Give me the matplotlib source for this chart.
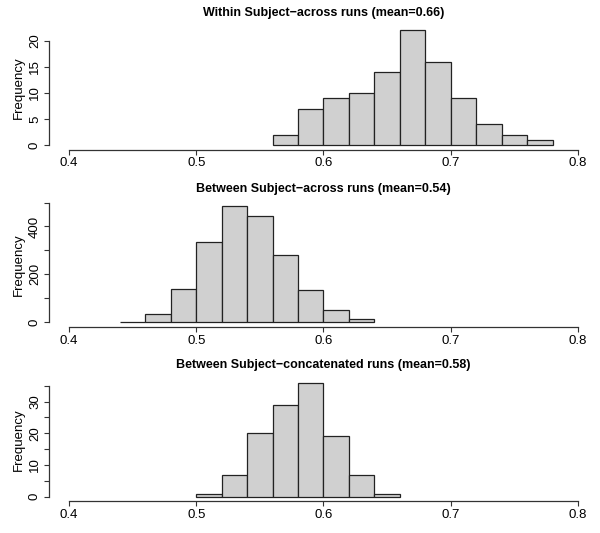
import numpy as np
import matplotlib
matplotlib.use("Agg")
import matplotlib.pyplot as plt

plt.rcParams['font.family'] = ['Liberation Sans', 'DejaVu Sans']

titles = [
    "Within Subject\u2212across runs (mean=0.66)",
    "Between Subject\u2212across runs (mean=0.54)",
    "Between Subject\u2212concatenated runs (mean=0.58)",
]

edges_within = [0.56, 0.58, 0.60, 0.62, 0.64, 0.66, 0.68, 0.70, 0.72, 0.74, 0.76, 0.78]
counts_within = [2, 7, 9, 10, 14, 22, 16, 9, 4, 2, 1]

edges_between = [0.44, 0.46, 0.48, 0.50, 0.52, 0.54, 0.56, 0.58, 0.60, 0.62, 0.64]
counts_between = [3, 35, 138, 335, 484, 445, 282, 135, 51, 14]

edges_concat = [0.50, 0.52, 0.54, 0.56, 0.58, 0.60, 0.62, 0.64, 0.66]
counts_concat = [1, 7, 20, 29, 36, 19, 7, 1]

y_ticks = [
    [0, 5, 10, 15, 20],
    [0, 100, 200, 300, 400, 500],
    [0, 5, 10, 15, 20, 25, 30, 35],
]
y_ticklabels = [
    ["0", "5", "10", "15", "20"],
    ["0", "", "200", "", "400", ""],
    ["0", "", "10", "", "20", "", "30", ""],
]
x_ticks = [0.4, 0.5, 0.6, 0.7, 0.8]
x_ticklabels = ["0.4", "0.5", "0.6", "0.7", "0.8"]

datasets = [
    (edges_within, counts_within),
    (edges_between, counts_between),
    (edges_concat, counts_concat),
]

W, H = 600, 533
fig = plt.figure(figsize=(W / 100, H / 100), dpi=100)

# plot region bounds in pixels (top, bottom)
regions = [(25.7, 149.6), (201.7, 326.9), (378.0, 501.3)]
left_px, right_px = 48.6, 598.4

for i, ((edges, counts), (top, bot)) in enumerate(zip(datasets, regions)):
    ax = fig.add_axes([left_px / W, 1 - bot / H, (right_px - left_px) / W, (bot - top) / H])
    e = np.array(edges)
    c = np.array(counts)
    ax.bar(e[:-1], c, width=np.diff(e), align='edge', color='#D0D0D0',
           edgecolor='#222222', linewidth=0.9)
    ymax = c.max()
    ax.set_xlim(0.4 - 0.016, 0.8 + 0.016)
    ax.set_ylim(-0.04 * ymax, 1.04 * ymax)
    for s in ['top', 'right']:
        ax.spines[s].set_visible(False)
    ax.spines['left'].set_bounds(y_ticks[i][0], y_ticks[i][-1])
    ax.spines['bottom'].set_bounds(0.4, 0.8)
    for s in ['left', 'bottom']:
        ax.spines[s].set_color('#333333')
        ax.spines[s].set_linewidth(0.9)
    ax.set_xticks(x_ticks)
    ax.set_xticklabels(x_ticklabels, fontsize=9.5)
    ax.set_yticks(y_ticks[i])
    ax.set_yticklabels(y_ticklabels[i], fontsize=9.5, rotation=90, va='center')
    ax.tick_params(axis='both', length=3.5, width=0.8, color='#333333', pad=2)
    ax.set_ylabel("Frequency", fontsize=9.5, labelpad=3)
    ax.set_title(titles[i], fontsize=9, fontweight='bold', pad=7)
    ax.patch.set_visible(False)

fig.savefig("out.png", dpi=100)
